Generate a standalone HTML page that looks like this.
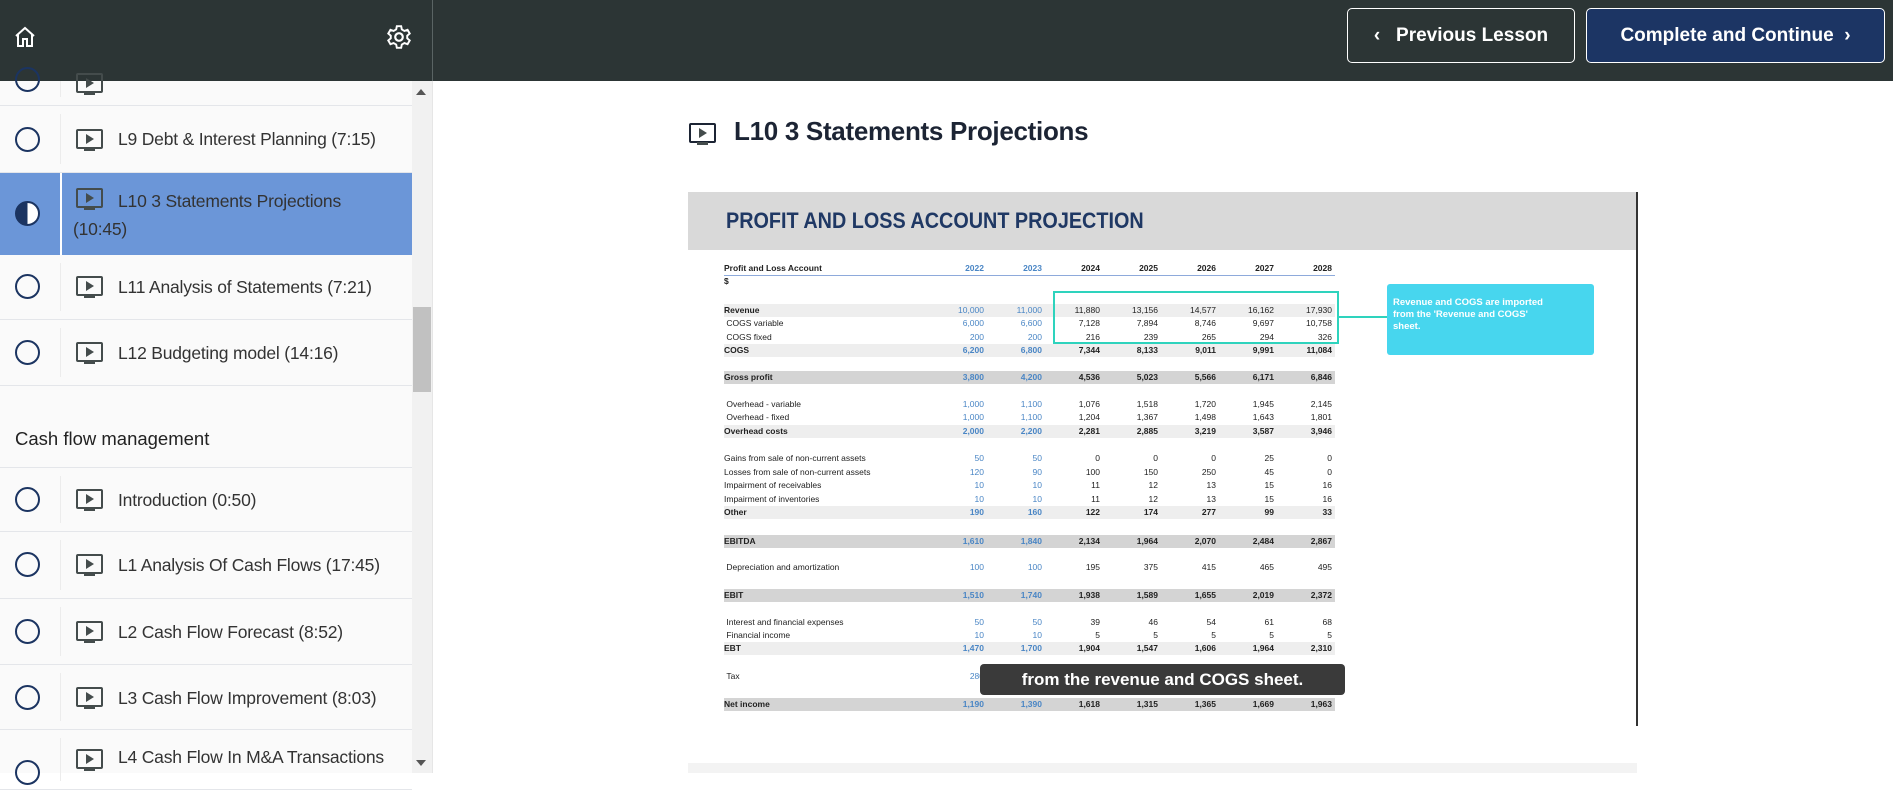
<!DOCTYPE html>
<html><head><meta charset="utf-8"><style>
*{margin:0;padding:0;box-sizing:border-box}
body{width:1893px;height:773px;overflow:hidden;background:#fff;font-family:"Liberation Sans",sans-serif;position:relative}
.top{position:absolute;left:0;top:0;width:1893px;height:81px;background:#2c3535}
.divl{position:absolute;left:432px;top:0;width:1px;height:81px;background:#5a6464}
.side{position:absolute;left:0;top:81px;width:412px;height:692px;background:#fafafa}
.shadow{position:absolute;left:432px;top:81px;width:1px;height:692px;background:#e6e6e6}
.sb{position:absolute;left:412px;top:81px;width:20px;height:692px;background:#f1f1f1}
.thumb{position:absolute;left:413px;top:307px;width:18px;height:85px;background:#c1c1c1}
.row{position:absolute;left:0;width:412px;border-bottom:1px solid #e4e6ea}
.row .c{position:absolute;left:15px;width:25px;height:25px;border:2.5px solid #1b3461;border-radius:50%}
.row .vl{position:absolute;left:60px;top:8px;bottom:8px;width:1px;background:#ececec}
.row .t{position:absolute;left:118px;font-size:17.5px;color:#333;letter-spacing:-0.2px}
.ic{position:absolute;width:27px;height:20px;border:2.5px solid #444c4c;border-radius:2px}
.ic:after{content:"";position:absolute;left:8px;top:3px;border-left:8px solid #444c4c;border-top:5px solid transparent;border-bottom:5px solid transparent}
.ic:before{content:"";position:absolute;left:6px;top:17px;width:11px;height:3px;background:#444c4c}
.btn{position:absolute;top:8px;height:55px;border:1.5px solid #fff;border-radius:5px;color:#fff;font-size:19px;font-weight:bold;display:flex;align-items:center;justify-content:center}
.tb{position:absolute;left:724px;font-size:8.5px;color:#222;height:13px;line-height:13px;display:flex}
.tb .l{width:202px}
.tb span.v{width:58px;text-align:right}
.tb .b{color:#4a86c5}
.g1{position:absolute;left:724px;width:611px;height:13px;background:#eeeeee}
.g2{position:absolute;left:724px;width:611px;height:13px;background:#d4d4d4}
.bold{font-weight:bold}
</style></head><body>
<div class="top"></div><div class="divl"></div>
<svg style="position:absolute;left:13px;top:25px" width="24" height="24" viewBox="0 0 24 24"><path d="M3 11 L12 3 L21 11 M5 9 V21 H10 V14 H14 V21 H19 V9" fill="none" stroke="#fff" stroke-width="2"/></svg>
<svg style="position:absolute;left:386px;top:24px" width="26" height="26" viewBox="0 0 24 24"><circle cx="12" cy="12" r="3.5" fill="none" stroke="#fff" stroke-width="2"/><path d="M10 2h4l.6 3 2.4 1.4 2.9-1 2 3.4-2.3 2v2.4l2.3 2-2 3.4-2.9-1-2.4 1.4-.6 3h-4l-.6-3-2.4-1.4-2.9 1-2-3.4 2.3-2v-2.4l-2.3-2 2-3.4 2.9 1L9.4 5z" fill="none" stroke="#fff" stroke-width="1.8"/></svg>
<div class="btn" style="left:1347px;width:228px">‹&nbsp;&nbsp; Previous Lesson</div>
<div class="btn" style="left:1586px;width:299px;background:#1c3564">Complete and Continue &nbsp;›</div>

<div class="side"></div>
<div class="row" style="top:81px;height:25px"><div class="c" style="top:-14px"></div><div class="vl" style="top:0"></div><div class="ic" style="left:76px;top:-8px"></div></div>
<div class="row" style="top:106px;height:67px"><div class="c" style="top:21px"></div><div class="vl"></div><div class="ic" style="left:76px;top:23px"></div><div class="t" style="top:23px">L9 Debt &amp; Interest Planning (7:15)</div></div>
<div class="row" style="top:173px;height:82px;background:#6b96d8;border:none"><div style="position:absolute;left:15px;top:28px;width:25px;height:25px;border:2.5px solid #1b3461;border-radius:50%;background:linear-gradient(90deg,#1b3461 50%,#fff 50%)"></div><div class="vl" style="background:#fff;top:0;bottom:0;width:2px"></div><div class="ic" style="left:76px;top:15px"></div><div class="t" style="top:14px;line-height:28px">L10 3 Statements Projections<br><span style="margin-left:-45px">(10:45)</span></div></div>
<div class="row" style="top:255px;height:65px"><div class="c" style="top:19px"></div><div class="vl"></div><div class="ic" style="left:76px;top:21px"></div><div class="t" style="top:22px">L11 Analysis of Statements (7:21)</div></div>
<div class="row" style="top:320px;height:66px"><div class="c" style="top:20px"></div><div class="vl"></div><div class="ic" style="left:76px;top:22px"></div><div class="t" style="top:23px">L12 Budgeting model (14:16)</div></div>
<div style="position:absolute;left:15px;top:428px;font-size:18.5px;color:#222">Cash flow management</div>
<div class="row" style="top:467px;height:65px;border-top:1px solid #e4e6ea"><div class="c" style="top:19px"></div><div class="vl"></div><div class="ic" style="left:76px;top:21px"></div><div class="t" style="top:22px">Introduction (0:50)</div></div>
<div class="row" style="top:532px;height:67px"><div class="c" style="top:20px"></div><div class="vl"></div><div class="ic" style="left:76px;top:22px"></div><div class="t" style="top:23px">L1 Analysis Of Cash Flows (17:45)</div></div>
<div class="row" style="top:599px;height:66px"><div class="c" style="top:20px"></div><div class="vl"></div><div class="ic" style="left:76px;top:22px"></div><div class="t" style="top:23px">L2 Cash Flow Forecast (8:52)</div></div>
<div class="row" style="top:665px;height:65px"><div class="c" style="top:20px"></div><div class="vl"></div><div class="ic" style="left:76px;top:22px"></div><div class="t" style="top:23px">L3 Cash Flow Improvement (8:03)</div></div>
<div class="row" style="top:730px;height:60px"><div class="c" style="top:30px"></div><div class="vl"></div><div class="ic" style="left:76px;top:19px"></div><div class="t" style="top:17px">L4 Cash Flow In M&amp;A Transactions</div></div>
<div class="sb"></div><div class="thumb"></div>
<div style="position:absolute;left:416px;top:89px;border-bottom:6px solid #555;border-left:5px solid transparent;border-right:5px solid transparent"></div>
<div style="position:absolute;left:416px;top:760px;border-top:6px solid #555;border-left:5px solid transparent;border-right:5px solid transparent"></div>
<div class="shadow"></div>

<div class="ic" style="left:689px;top:123px;border-color:#1c2434"></div>
<div style="position:absolute;left:734px;top:116px;font-size:26px;color:#1c2434;font-weight:bold;letter-spacing:-0.3px">L10 3 Statements Projections</div>

<div style="position:absolute;left:688px;top:192px;width:949px;height:534px;background:#fff"></div>
<div style="position:absolute;left:688px;top:192px;width:949px;height:58px;background:#d9d9d9"></div>
<div style="position:absolute;left:1636px;top:192px;width:2px;height:534px;background:#333"></div>
<div style="position:absolute;left:726px;top:208px;font-size:22px;color:#1f3864;font-weight:bold;transform:scaleX(0.9);transform-origin:left">PROFIT AND LOSS ACCOUNT PROJECTION</div>
<div style="position:absolute;left:688px;top:763px;width:949px;height:10px;background:#f3f3f3"></div>

<div style="position:absolute;left:724px;top:275px;width:611px;height:1px;background:#8eaadb"></div>
<div class="g1" style="top:304px"></div><div class="g1" style="top:344px"></div>
<div class="g2" style="top:371px"></div>
<div class="g1" style="top:425px"></div><div class="g1" style="top:506px"></div>
<div class="g2" style="top:535px"></div><div class="g2" style="top:589px"></div>
<div class="g1" style="top:642px"></div><div class="g2" style="top:698px"></div>

<div class="tb bold" style="top:262px"><span class="l">Profit and Loss Account</span><span class="v b">2022</span><span class="v b">2023</span><span class="v">2024</span><span class="v">2025</span><span class="v">2026</span><span class="v">2027</span><span class="v">2028</span></div>
<div class="tb bold" style="top:275px"><span class="l">$</span></div>
<div class="tb" style="top:304px"><span class="l bold">Revenue</span><span class="v b">10,000</span><span class="v b">11,000</span><span class="v">11,880</span><span class="v">13,156</span><span class="v">14,577</span><span class="v">16,162</span><span class="v">17,930</span></div>
<div class="tb" style="top:317px"><span class="l">&nbsp;COGS variable</span><span class="v b">6,000</span><span class="v b">6,600</span><span class="v">7,128</span><span class="v">7,894</span><span class="v">8,746</span><span class="v">9,697</span><span class="v">10,758</span></div>
<div class="tb" style="top:331px"><span class="l">&nbsp;COGS fixed</span><span class="v b">200</span><span class="v b">200</span><span class="v">216</span><span class="v">239</span><span class="v">265</span><span class="v">294</span><span class="v">326</span></div>
<div class="tb bold" style="top:344px"><span class="l">COGS</span><span class="v b">6,200</span><span class="v b">6,800</span><span class="v">7,344</span><span class="v">8,133</span><span class="v">9,011</span><span class="v">9,991</span><span class="v">11,084</span></div>
<div class="tb bold" style="top:371px"><span class="l">Gross profit</span><span class="v b">3,800</span><span class="v b">4,200</span><span class="v">4,536</span><span class="v">5,023</span><span class="v">5,566</span><span class="v">6,171</span><span class="v">6,846</span></div>
<div class="tb" style="top:398px"><span class="l">&nbsp;Overhead - variable</span><span class="v b">1,000</span><span class="v b">1,100</span><span class="v">1,076</span><span class="v">1,518</span><span class="v">1,720</span><span class="v">1,945</span><span class="v">2,145</span></div>
<div class="tb" style="top:411px"><span class="l">&nbsp;Overhead - fixed</span><span class="v b">1,000</span><span class="v b">1,100</span><span class="v">1,204</span><span class="v">1,367</span><span class="v">1,498</span><span class="v">1,643</span><span class="v">1,801</span></div>
<div class="tb bold" style="top:425px"><span class="l">Overhead costs</span><span class="v b">2,000</span><span class="v b">2,200</span><span class="v">2,281</span><span class="v">2,885</span><span class="v">3,219</span><span class="v">3,587</span><span class="v">3,946</span></div>
<div class="tb" style="top:452px"><span class="l">Gains from sale of non-current assets</span><span class="v b">50</span><span class="v b">50</span><span class="v">0</span><span class="v">0</span><span class="v">0</span><span class="v">25</span><span class="v">0</span></div>
<div class="tb" style="top:466px"><span class="l">Losses from sale of non-current assets</span><span class="v b">120</span><span class="v b">90</span><span class="v">100</span><span class="v">150</span><span class="v">250</span><span class="v">45</span><span class="v">0</span></div>
<div class="tb" style="top:479px"><span class="l">Impairment of receivables</span><span class="v b">10</span><span class="v b">10</span><span class="v">11</span><span class="v">12</span><span class="v">13</span><span class="v">15</span><span class="v">16</span></div>
<div class="tb" style="top:493px"><span class="l">Impairment of inventories</span><span class="v b">10</span><span class="v b">10</span><span class="v">11</span><span class="v">12</span><span class="v">13</span><span class="v">15</span><span class="v">16</span></div>
<div class="tb bold" style="top:506px"><span class="l">Other</span><span class="v b">190</span><span class="v b">160</span><span class="v">122</span><span class="v">174</span><span class="v">277</span><span class="v">99</span><span class="v">33</span></div>
<div class="tb bold" style="top:535px"><span class="l">EBITDA</span><span class="v b">1,610</span><span class="v b">1,840</span><span class="v">2,134</span><span class="v">1,964</span><span class="v">2,070</span><span class="v">2,484</span><span class="v">2,867</span></div>
<div class="tb" style="top:561px"><span class="l">&nbsp;Depreciation and amortization</span><span class="v b">100</span><span class="v b">100</span><span class="v">195</span><span class="v">375</span><span class="v">415</span><span class="v">465</span><span class="v">495</span></div>
<div class="tb bold" style="top:589px"><span class="l">EBIT</span><span class="v b">1,510</span><span class="v b">1,740</span><span class="v">1,938</span><span class="v">1,589</span><span class="v">1,655</span><span class="v">2,019</span><span class="v">2,372</span></div>
<div class="tb" style="top:616px"><span class="l">&nbsp;Interest and financial expenses</span><span class="v b">50</span><span class="v b">50</span><span class="v">39</span><span class="v">46</span><span class="v">54</span><span class="v">61</span><span class="v">68</span></div>
<div class="tb" style="top:629px"><span class="l">&nbsp;Financial income</span><span class="v b">10</span><span class="v b">10</span><span class="v">5</span><span class="v">5</span><span class="v">5</span><span class="v">5</span><span class="v">5</span></div>
<div class="tb bold" style="top:642px"><span class="l">EBT</span><span class="v b">1,470</span><span class="v b">1,700</span><span class="v">1,904</span><span class="v">1,547</span><span class="v">1,606</span><span class="v">1,964</span><span class="v">2,310</span></div>
<div class="tb" style="top:670px"><span class="l">&nbsp;Tax</span><span class="v b">280</span></div>
<div class="tb bold" style="top:698px"><span class="l">Net income</span><span class="v b">1,190</span><span class="v b">1,390</span><span class="v">1,618</span><span class="v">1,315</span><span class="v">1,365</span><span class="v">1,669</span><span class="v">1,963</span></div>

<div style="position:absolute;left:1053px;top:291px;width:286px;height:53px;border:2.5px solid #2ed3bd"></div>
<div style="position:absolute;left:1339px;top:316px;width:48px;height:2px;background:#2ed3bd"></div>
<div style="position:absolute;left:1387px;top:284px;width:207px;height:71px;background:#47d6ee;border-radius:3px;color:#fff;font-size:9.5px;font-weight:bold;padding:13px 40px 0 6px;line-height:12px">Revenue and COGS are imported from the 'Revenue and COGS' sheet.</div>

<div style="position:absolute;left:980px;top:664px;width:365px;height:31px;background:#3a3a3a;border-radius:4px;color:#fff;font-size:17px;font-weight:bold;text-align:center;line-height:31px">from the revenue and COGS sheet.</div>
</body></html>
